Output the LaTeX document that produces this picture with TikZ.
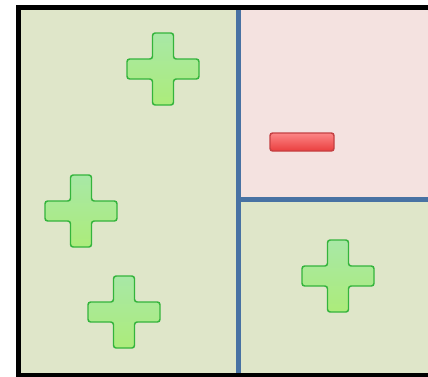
\documentclass[tikz,border=0pt]{standalone}
\definecolor{cellgreen}{RGB}{223,230,201}
\definecolor{cellpink}{RGB}{244,226,224}
\definecolor{splitblue}{RGB}{72,114,163}
\definecolor{plusedge}{RGB}{52,180,60}
\definecolor{plustop}{RGB}{168,232,166}
\definecolor{plusmid}{RGB}{104,212,92}
\definecolor{plusbot}{RGB}{172,236,122}
\definecolor{minusedge}{RGB}{196,64,66}
\definecolor{minustop}{RGB}{252,134,134}
\definecolor{minusbot}{RGB}{234,62,62}
\tikzset{
  plus body/.style={draw=plusedge, line width=1.1pt, rounded corners=2pt,
    top color=plustop, middle color=plusmid, bottom color=plusbot},
  minus body/.style={draw=minusedge, line width=1.1pt, rounded corners=2pt,
    top color=minustop, bottom color=minusbot},
  plus sign/.pic={
    \draw[plus body] (-10.5,-36) -- (10.5,-36) -- (10.5,-10) -- (36,-10) -- (36,10)
      -- (10.5,10) -- (10.5,36) -- (-10.5,36) -- (-10.5,10) -- (-36,10)
      -- (-36,-10) -- (-10.5,-10) -- cycle;
  },
  minus sign/.pic={
    \draw[minus body] (-32,-9) rectangle (32,9);
  }
}
\begin{document}
\begin{tikzpicture}[x=0.75pt,y=0.75pt,yscale=-1,xscale=1]
  \useasboundingbox (0,0) rectangle (428,376);
  \clip (0,0) rectangle (428,376);
  % cells
  \fill[cellgreen] (18.5,7.5) rectangle (440,375.5);
  \fill[cellpink] (238.5,7.5) rectangle (440,199);
  % splitting lines
  \draw[splitblue, line width=3.75pt] (238.5,7.5) -- (238.5,375.5);
  \draw[splitblue, line width=3.75pt] (238.5,199) -- (440,199);
  % outer frame
  \draw[black, line width=3.75pt] (440,7.5) -- (18.5,7.5) -- (18.5,375.5) -- (440,375.5);
  % signs
  \pic (plusA) at (163,69) {plus sign};
  \pic (plusB) at (81,211) {plus sign};
  \pic (plusC) at (124,312) {plus sign};
  \pic (plusD) at (338,276) {plus sign};
  \pic (minusA) at (302,142) {minus sign};
\end{tikzpicture}
\end{document}
